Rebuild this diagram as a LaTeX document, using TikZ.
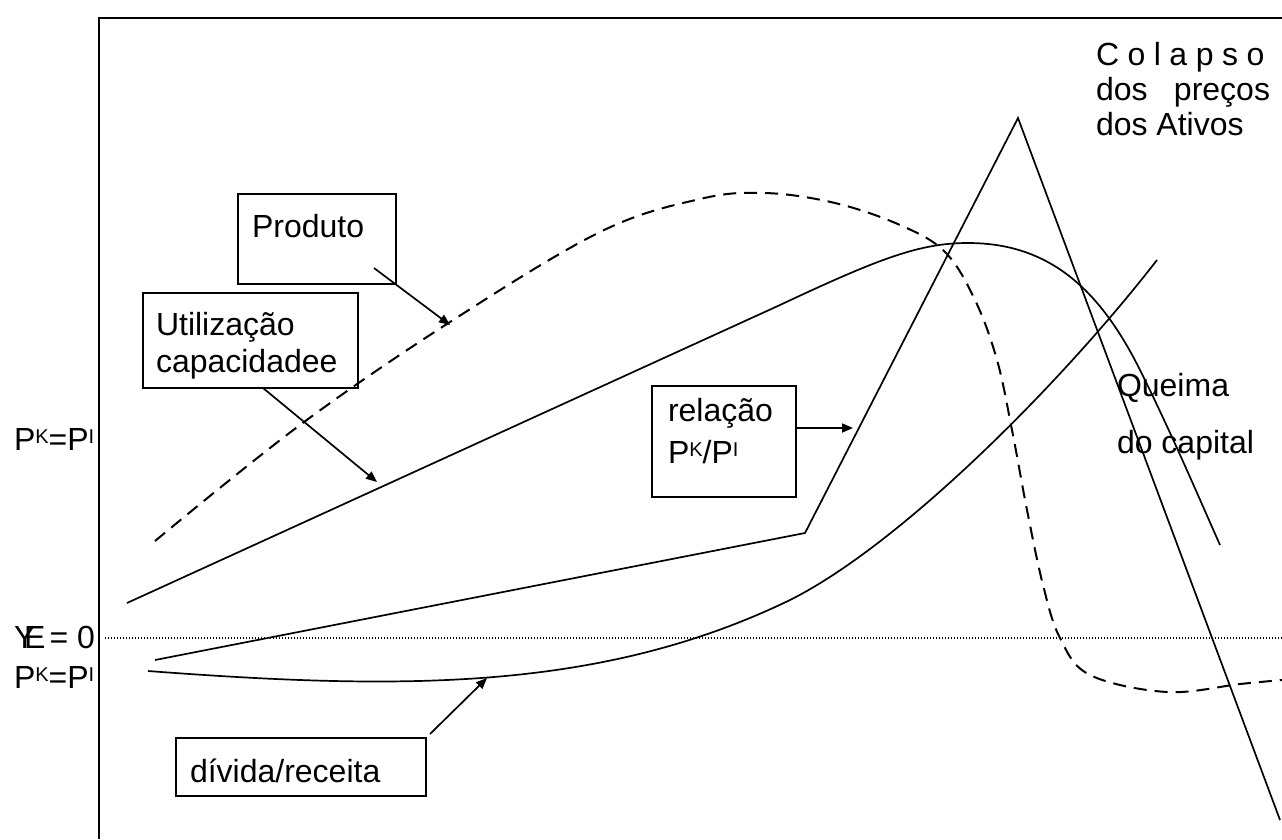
\documentclass[tikz,border=0pt]{standalone}
\usepackage{fontspec}
\setmainfont{Liberation Sans}
\usetikzlibrary{arrows.meta}
\begin{document}
\begin{tikzpicture}[x=1pt,y=-1pt,
  every node/.style={inner sep=0pt,outer sep=0pt,font=\fontsize{32}{38}\selectfont},
  lab/.style={anchor=base west},
  curve/.style={line width=1.7pt},
  dcurve/.style={line width=2pt,dash pattern=on 13pt off 8pt},
  boxst/.style={draw,line width=1.7pt},
  arr/.style={line width=1.7pt,-{Triangle[length=11pt,width=9pt]}}
]
\useasboundingbox (0,0) rectangle (1282,839);
% frame
\draw[line width=1.9pt] (99,839) -- (99,18) -- (1282,18);
\draw[line width=1.2pt,dash pattern=on 1.2pt off 1.8pt] (105,638) -- (1282,638);

% left labels
\node[lab] (pk1) at (14,450) {P\raisebox{7pt}{\fontsize{20}{24}\selectfont K}=P\raisebox{7pt}{\fontsize{20}{24}\selectfont I}};
\node[lab] (yl) at (14,648) {Y};
\node[lab] (el) at (24,648) {E};
\node[anchor=base east] (eq0) at (95,648) {= 0};
\node[lab] (pk2) at (14,688) {P\raisebox{7pt}{\fontsize{20}{24}\selectfont K}=P\raisebox{7pt}{\fontsize{20}{24}\selectfont I}};

% produto (dashed)
\draw[dcurve] plot[smooth,tension=0.6] coordinates {(155,541) (300,425) (450,322) (600,232) (700,199) (765,193) (835,203) (900,225) (945,252) (975,300) (997,360) (1012,430) (1027,510) (1043,585) (1060,638) (1090,675) (1167,692) (1240,684) (1282,680)};
% utilizacao
\draw[curve] (127,603) -- (780,305) .. controls (880,258) and (920,243) .. (968,243)
  .. controls (1050,243) and (1100,290) .. (1140,370) .. controls (1170,430) and (1200,500) .. (1220,545);
% relacao
\coordinate (r1) at (155,660);
\coordinate (r2) at (805,533);
\coordinate (r3) at (1018,118);
\coordinate (r4) at (1280,820);
\draw[curve] (r1) -- (r2) -- (r3) -- (r4);
% divida
\draw[curve] (148,671) .. controls (400,690) and (600,692) .. (790,600)
  .. controls (900,545) and (1060,385) .. (1157,260);

% boxes
\node[boxst,minimum width=158pt,minimum height=90pt] (produto) at (317,239) {};
\node[lab] at (252,237) {Produto};
\node[boxst,minimum width=215pt,minimum height=95pt] (util) at (250.5,340.5) {};
\node[lab] at (156,335) {Utilização};
\node[lab] at (156,372) {capacidadee};
\node[boxst,minimum width=144pt,minimum height=111pt] (rel) at (724,441.5) {};
\node[lab] at (668,421) {relação};
\node[lab] at (668,463) {P\raisebox{7pt}{\fontsize{20}{24}\selectfont K}/P\raisebox{7pt}{\fontsize{20}{24}\selectfont I}};
\node[boxst,minimum width=250pt,minimum height=58pt] (div) at (301,767) {};
\node[lab] at (190,782) {dívida/receita};

% arrows
\coordinate (pa) at (450,325);
\coordinate (ua) at (377,482);
\coordinate (ra) at (853,428);
\coordinate (da) at (487,678);
\draw[arr] (374,268) -- (pa);
\draw[arr] (263,388) -- (ua);
\draw[arr] (rel.east |- ra) -- (ra);
\draw[arr] (430,734) -- (da);

% right texts
\node[lab] at (1096,65) {C\hspace{8.5pt}o\hspace{8.5pt}l\hspace{8.5pt}a\hspace{8.5pt}p\hspace{8.5pt}s\hspace{8.5pt}o};
\node[lab] at (1096,100) {dos};
\node[anchor=base east] at (1270,100) {preços};
\node[lab] at (1096,135) {dos Ativos};
\node[lab] at (1117,396) {Queima};
\node[lab] at (1117,453) {do capital};
\end{tikzpicture}
\end{document}
